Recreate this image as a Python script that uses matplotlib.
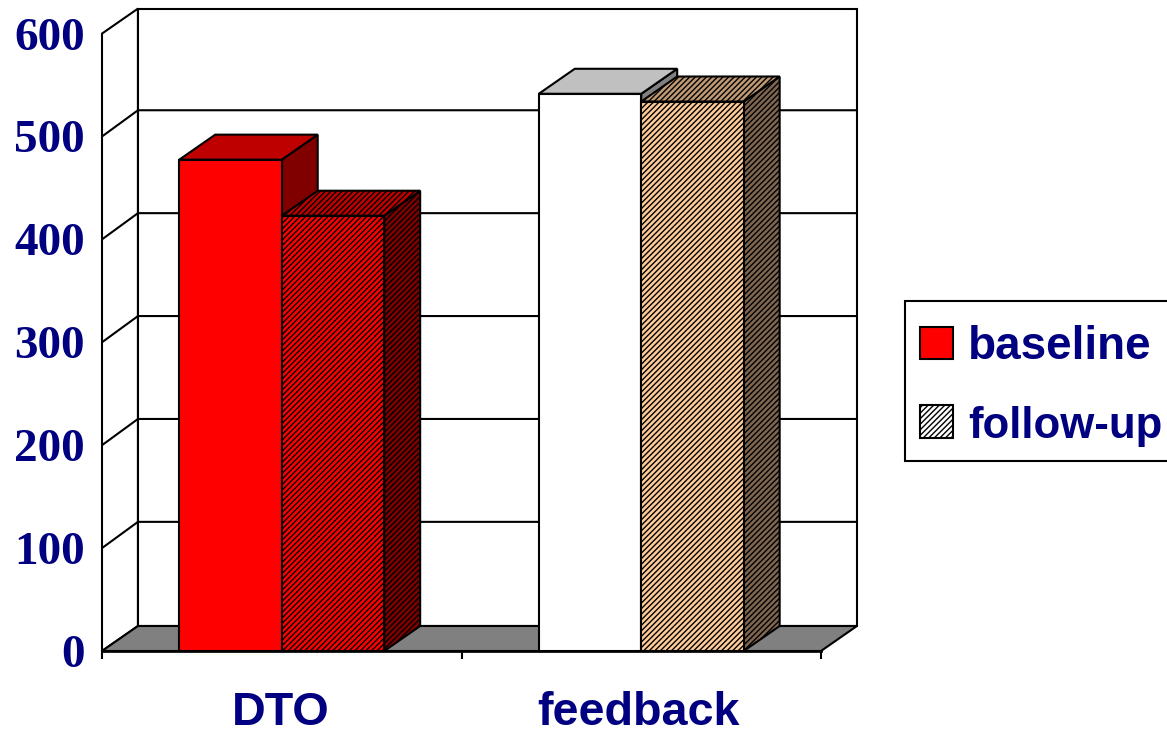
import matplotlib
matplotlib.use('Agg')
import matplotlib.pyplot as plt
from matplotlib.patches import Polygon, Patch, Rectangle

plt.rcParams['hatch.linewidth'] = 1.0

categories = ['DTO', 'feedback']
baseline = [477.5, 541.5]
followup = [423, 534]
yticks = [0, 100, 200, 300, 400, 500, 600]

navy = '#000080'
# front, top, side colours per category
base_cols = [('#ff0000', '#bf0000', '#800000'), ('#ffffff', '#c0c0c0', '#808080')]
follow_cols = [('#ff0000', '#bf0000', '#800000'), ('#ffcc99', '#bf9973', '#806650')]

bar_w = 0.285
dx = 0.1      # depth of the fake 3d box in x units
dy = 24.3     # and in value units
lw = 1.5
dense = '//////'

fig = plt.figure(figsize=(11.67, 7.32), dpi=100)
ax = fig.add_axes([102 / 1167, 81 / 732, 756 / 1167, 642 / 732])
ax.set_xlim(-0.5, -0.5 + 756 / 359.5)
ax.set_ylim(0, 623.9)
for s in ax.spines.values():
    s.set_visible(False)


def poly(pts, fc, hatch=None, z=1):
    ax.add_patch(Polygon(pts, closed=True, facecolor=fc, edgecolor='black', linewidth=lw,
                         hatch=hatch, zorder=z, clip_on=False, joinstyle='miter'))


# floor and walls
poly([(-0.5, 0), (-0.5 + dx, dy), (1.5 + dx, dy), (1.5, 0)], '#808080', z=1)
poly([(-0.5, 0), (-0.5 + dx, dy), (-0.5 + dx, 600 + dy), (-0.5, 600)], 'white', z=0.5)
poly([(-0.5 + dx, dy), (1.5 + dx, dy), (1.5 + dx, 600 + dy), (-0.5 + dx, 600 + dy)], 'white', z=0.5)
for v in yticks[1:-1]:
    ax.plot([-0.5, -0.5 + dx, 1.5 + dx], [v, v + dy + 1.2, v + dy + 1.2], color='black', lw=lw, zorder=0.8)


def box(left, val, cols, hatch, z):
    front, top, side = cols
    poly([(left + bar_w, 0), (left + bar_w + dx, dy), (left + bar_w + dx, val + dy), (left + bar_w, val)],
         side, hatch, z)
    poly([(left, val), (left + dx, val + dy), (left + bar_w + dx, val + dy), (left + bar_w, val)],
         top, hatch, z)
    ax.bar(left, val, width=bar_w, align='edge', color=front, edgecolor='black', linewidth=lw,
           hatch=hatch, zorder=z)


for i in range(len(categories)):
    box(i - bar_w, baseline[i], base_cols[i], None, 2 + i * 2)
    box(i, followup[i], follow_cols[i], dense, 3 + i * 2)

ax.plot([-0.5, 1.5], [0, 0], color='black', lw=lw * 1.3, zorder=8, clip_on=False)

# ticks
ax.set_xticks([-0.5, 0.5, 1.5])
ax.set_xticklabels([])
ax.tick_params(axis='x', which='major', length=6, width=lw, color='black')
ax.set_xticks([-0.004, 0.992], minor=True)
ax.set_xticklabels(categories, minor=True, fontfamily='Liberation Sans', fontweight='bold',
                   fontsize=33.7, color=navy)
ax.tick_params(axis='x', which='minor', length=0, pad=29)

ax.set_yticks(yticks)
ax.set_yticklabels([str(v) for v in yticks], fontfamily='Liberation Serif', fontweight='bold',
                   fontsize=34, color=navy)
ax.tick_params(axis='y', length=0, pad=12.5)

# legend box runs off the right edge
fig.add_artist(Rectangle((905 / 1167, 1 - 461 / 732), 300 / 1167, 160 / 732, transform=fig.transFigure,
                         facecolor='white', edgecolor='black', linewidth=lw))
handles = [Patch(facecolor='#ff0000', edgecolor='black', linewidth=lw),
           Patch(facecolor='white', edgecolor='black', linewidth=lw, hatch=dense)]
leg = fig.legend(handles, ['baseline', 'follow-up'], loc='upper left',
                 bbox_to_anchor=(920 / 1167, 1 - 325 / 732), borderaxespad=0, frameon=False,
                 borderpad=0, handlelength=0.72, handleheight=0.72,
                 handletextpad=0.33, labelspacing=0.79,
                 prop={'family': 'Liberation Sans', 'weight': 'bold', 'size': 33})
for t in leg.get_texts():
    t.set_color(navy)
leg.get_texts()[1].set_fontsize(31.5)

fig.savefig('out.png', dpi=100)
